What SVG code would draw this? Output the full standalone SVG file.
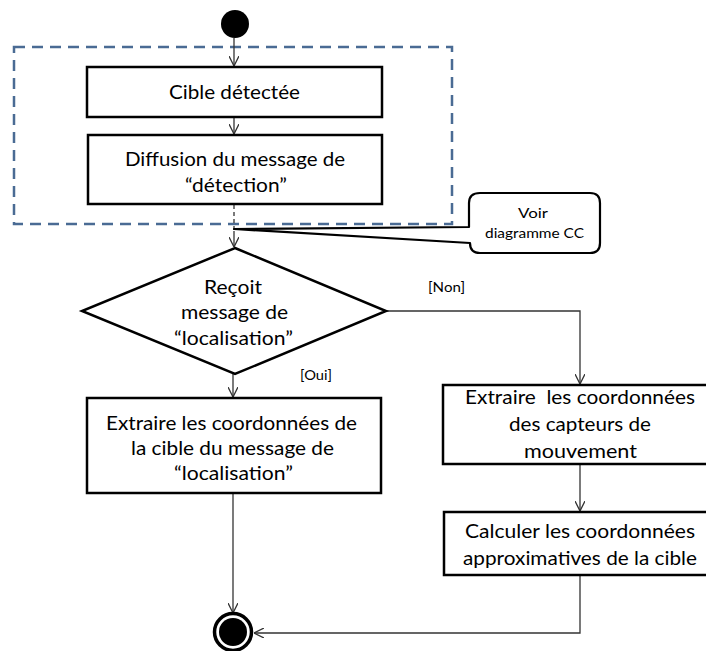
<svg xmlns="http://www.w3.org/2000/svg" width="706" height="651" viewBox="0 0 706 651">
<defs>
<style>
.box{fill:#fff;stroke:#000;stroke-width:2.5}
.t{font-family:Lato,"Liberation Sans",sans-serif;font-size:20px;fill:#000;text-anchor:middle}
.s{font-family:Lato,"Liberation Sans",sans-serif;font-size:14px;fill:#000;text-anchor:middle}
.g{font-family:Lato,"Liberation Sans",sans-serif;font-size:13px;fill:#000;text-anchor:middle}
.c{fill:none;stroke:#333;stroke-width:1.3}
</style>
<marker id="arr" viewBox="0 0 10 10" refX="10" refY="5" markerWidth="10" markerHeight="10" markerUnits="userSpaceOnUse" orient="auto">
<path d="M0,0 L10,5 L0,10" fill="none" stroke="#333" stroke-width="1.3"/>
</marker>
</defs>
<rect width="706" height="651" fill="#fff"/>
<rect id="region" x="14" y="47" width="438" height="177" fill="none" stroke="#4a6b94" stroke-width="2.5" stroke-dasharray="11 7"/>
<g id="connectors">
<line class="c" x1="234" y1="38" x2="234" y2="66" marker-end="url(#arr)"/>
<line class="c" x1="234" y1="117" x2="234" y2="134" marker-end="url(#arr)"/>
<line class="c" x1="234" y1="205" x2="234" y2="230" stroke-dasharray="4 3"/>
<line class="c" x1="234" y1="231" x2="234" y2="247" marker-end="url(#arr)"/>
<line class="c" x1="233" y1="374" x2="233" y2="397" marker-end="url(#arr)"/>
<polyline class="c" points="387,311 580,311 580,384" marker-end="url(#arr)"/>
<line class="c" x1="580" y1="464" x2="580" y2="511" marker-end="url(#arr)"/>
<line class="c" x1="233" y1="493" x2="233" y2="613" marker-end="url(#arr)"/>
<polyline class="c" points="580,576 580,633 254,633" marker-end="url(#arr)"/>
</g>
<g id="start"><circle cx="235" cy="24" r="14" fill="#000"/></g>
<g id="cible">
<rect class="box" x="87" y="67" width="295" height="50"/>
<text class="t" x="234.5" y="99" textLength="131" lengthAdjust="spacingAndGlyphs">Cible détectée</text>
</g>
<g id="diffusion">
<rect class="box" x="88" y="135" width="294" height="69"/>
<text class="t" x="235" y="166" textLength="220" lengthAdjust="spacingAndGlyphs">Diffusion du message de</text>
<text class="t" x="236" y="192" textLength="102" lengthAdjust="spacingAndGlyphs">“détection”</text>
</g>
<g id="note">
<path d="M480,193 H590 Q600,193 600,203 V243 Q600,253 590,253 H480 Q470,253 470,243 L234,229 L469,227 V203 Q469,193 480,193 Z" fill="#fff" stroke="#000" stroke-width="2.2" stroke-linejoin="round"/>
<text class="s" x="533" y="218" textLength="30" lengthAdjust="spacingAndGlyphs">Voir</text>
<text class="s" x="534.5" y="238" textLength="99" lengthAdjust="spacingAndGlyphs">diagramme CC</text>
</g>
<g id="decision">
<polygon points="235,248 386,311 235,374 82,311" fill="#fff" stroke="#000" stroke-width="2.5" stroke-linejoin="miter"/>
<text class="t" x="233" y="294" textLength="58" lengthAdjust="spacingAndGlyphs">Reçoit</text>
<text class="t" x="234.5" y="319" textLength="107" lengthAdjust="spacingAndGlyphs">message de</text>
<text class="t" x="233.5" y="345" textLength="119" lengthAdjust="spacingAndGlyphs">“localisation”</text>
</g>
<g id="guard-non"><text class="g" x="446.5" y="292" textLength="37" lengthAdjust="spacingAndGlyphs">[Non]</text></g>
<g id="guard-oui"><text class="g" x="316" y="380" textLength="32" lengthAdjust="spacingAndGlyphs">[Oui]</text></g>
<g id="extraire-cible">
<rect class="box" x="87" y="398" width="294" height="95"/>
<text class="t" x="231.5" y="430" textLength="251" lengthAdjust="spacingAndGlyphs">Extraire les coordonnées de</text>
<text class="t" x="232.5" y="455" textLength="203" lengthAdjust="spacingAndGlyphs">la cible du message de</text>
<text class="t" x="233.5" y="480" textLength="119" lengthAdjust="spacingAndGlyphs">“localisation”</text>
</g>
<g id="extraire-capteurs">
<rect class="box" x="443" y="385" width="274" height="79"/>
<text class="t" x="580" y="404" textLength="230" lengthAdjust="spacingAndGlyphs" xml:space="preserve">Extraire  les coordonnées</text>
<text class="t" x="580" y="431" textLength="142" lengthAdjust="spacingAndGlyphs">des capteurs de</text>
<text class="t" x="580.5" y="458" textLength="113" lengthAdjust="spacingAndGlyphs">mouvement</text>
</g>
<g id="calculer">
<rect class="box" x="444" y="512" width="273" height="63"/>
<text class="t" x="580" y="538" textLength="230" lengthAdjust="spacingAndGlyphs">Calculer les coordonnées</text>
<text class="t" x="580" y="565" textLength="234" lengthAdjust="spacingAndGlyphs">approximatives de la cible</text>
</g>
<g id="end">
<circle cx="233" cy="632" r="18.5" fill="#fff" stroke="#000" stroke-width="3.5"/>
<circle cx="233" cy="632" r="14" fill="#000"/>
</g>
</svg>
